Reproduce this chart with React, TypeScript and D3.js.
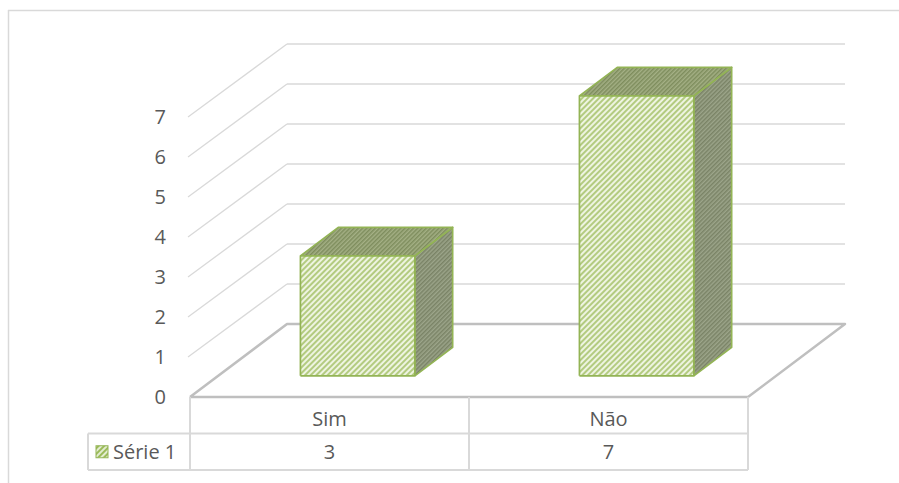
import React from 'react';
import * as d3 from 'd3';

// chart data
const categories = ['Sim', 'Não'];
const seriesName = 'Série 1';
const values = [3, 7];
const yTicks = [0, 1, 2, 3, 4, 5, 6, 7];

const W = 899;
const H = 483;

// 3D geometry (floor front edge -> back wall)
const depthX = 97;
const depthY = -73;
const barFront = 0.29;
const barBack = 0.68;
const barWidthFrac = 0.41;

const textColor = '#595959';
const gridColor = '#d9d9d9';
const floorColor = '#bfbfbf';
const barStroke = '#93b455';
const font = '"Open Sans", "Noto Sans", sans-serif';
const fontSize = 20;

const App = () => {
  const x = d3.scaleBand<string>().domain(categories).range([190, 748]);
  const y = d3.scaleLinear().domain([0, 7]).range([397, 117]);

  // project a front-plane point back by depth fraction d
  const pt = (px: number, v: number, d: number): [number, number] => [px + d * depthX, y(v) + d * depthY];
  const poly = (pts: [number, number][]) => d3.line()(pts.concat([pts[0]])) as string;

  const x0 = x.range()[0];
  const x1 = x.range()[1];
  const rowH = 36.5;
  const tableTop = y(0);

  return (
    <svg width={W} height={H} style={{ position: 'absolute', left: 0, top: 0 }}>
      <defs>
        <pattern id="front" width="4" height="4" patternUnits="userSpaceOnUse" patternTransform="rotate(45)">
          <rect width="4" height="4" fill="#eef4e1" />
          <rect width="2" height="4" fill="#b3cb80" />
        </pattern>
        <pattern id="top" width="3" height="3" patternUnits="userSpaceOnUse" patternTransform="rotate(45)">
          <rect width="3" height="3" fill="#a4b085" />
          <rect width="1.5" height="3" fill="#7e8d5d" />
        </pattern>
        <pattern id="side" width="3" height="3" patternUnits="userSpaceOnUse" patternTransform="rotate(45)">
          <rect width="3" height="3" fill="#9ca58a" />
          <rect width="1.5" height="3" fill="#7a8366" />
        </pattern>
        <pattern id="legend" width="4" height="4" patternUnits="userSpaceOnUse" patternTransform="rotate(45)">
          <rect width="4" height="4" fill="#e3ecd0" />
          <rect width="2" height="4" fill="#9bbb59" />
        </pattern>
      </defs>

      {/* outer frame */}
      <line x1={8} y1={10.5} x2={W} y2={10.5} stroke={gridColor} strokeWidth={1.5} />
      <line x1={8.5} y1={10} x2={8.5} y2={H} stroke={gridColor} strokeWidth={1.5} />

      {/* gridlines: back wall + side wall */}
      {yTicks.filter((t) => t > 0).map((t) => {
        const [bx, by] = pt(x0, t, 1);
        return (
          <g key={t}>
            <line x1={x0 - 2} y1={y(t)} x2={bx} y2={by} stroke={gridColor} strokeWidth={1.3} />
            <line x1={bx} y1={by} x2={x1 + depthX} y2={by} stroke={gridColor} strokeWidth={1.3} />
          </g>
        );
      })}

      {/* floor */}
      <path
        d={poly([pt(x0, 0, 0), pt(x0, 0, 1), pt(x1, 0, 1), pt(x1, 0, 0)])}
        fill="none"
        stroke={floorColor}
        strokeWidth={2.5}
        strokeLinejoin="round"
      />

      {/* y tick labels */}
      {yTicks.map((t) => (
        <text key={t} x={166} y={y(t)} dy="0.36em" textAnchor="end" fontFamily={font} fontSize={fontSize} fill={textColor}>
          {t}
        </text>
      ))}

      {/* bars */}
      {categories.map((c, i) => {
        const bw = x.bandwidth() * barWidthFrac;
        const cx = (x(c) as number) + x.bandwidth() / 2;
        const l = cx - bw / 2;
        const r = cx + bw / 2;
        const v = values[i];
        const side = poly([pt(r, 0, barFront), pt(r, 0, barBack), pt(r, v, barBack), pt(r, v, barFront)]);
        const top = poly([pt(l, v, barFront), pt(l, v, barBack), pt(r, v, barBack), pt(r, v, barFront)]);
        const front = poly([pt(l, 0, barFront), pt(l, v, barFront), pt(r, v, barFront), pt(r, 0, barFront)]);
        return (
          <g key={c} stroke={barStroke} strokeWidth={1.7} strokeLinejoin="round">
            <path d={side} fill="url(#side)" />
            <path d={top} fill="url(#top)" />
            <path d={front} fill="url(#front)" />
          </g>
        );
      })}

      {/* data table */}
      <g stroke={gridColor} strokeWidth={2} fill="none">
        <line x1={x0} y1={tableTop} x2={x0} y2={tableTop + 2 * rowH} />
        <line x1={(x(categories[1]) as number)} y1={tableTop} x2={(x(categories[1]) as number)} y2={tableTop + 2 * rowH} />
        <line x1={x1} y1={tableTop} x2={x1} y2={tableTop + 2 * rowH} />
        <line x1={88} y1={tableTop + rowH} x2={x1} y2={tableTop + rowH} />
        <line x1={88} y1={tableTop + 2 * rowH} x2={x1} y2={tableTop + 2 * rowH} />
        <line x1={88} y1={tableTop + rowH} x2={88} y2={tableTop + 2 * rowH} />
      </g>
      {categories.map((c, i) => {
        const cx = (x(c) as number) + x.bandwidth() / 2;
        return (
          <g key={c} fontFamily={font} fontSize={fontSize} fill={textColor} textAnchor="middle">
            <text x={cx} y={tableTop + rowH / 2 + 4} dy="0.36em">{c}</text>
            <text x={cx} y={tableTop + rowH * 1.5} dy="0.36em">{values[i]}</text>
          </g>
        );
      })}
      <rect x={96} y={tableTop + rowH * 1.5 - 6} width={12} height={12} fill="url(#legend)" stroke={barStroke} strokeWidth={1} />
      <text x={113} y={tableTop + rowH * 1.5} dy="0.36em" fontFamily={font} fontSize={fontSize} fill={textColor}>
        {seriesName}
      </text>
    </svg>
  );
};

export default App;
